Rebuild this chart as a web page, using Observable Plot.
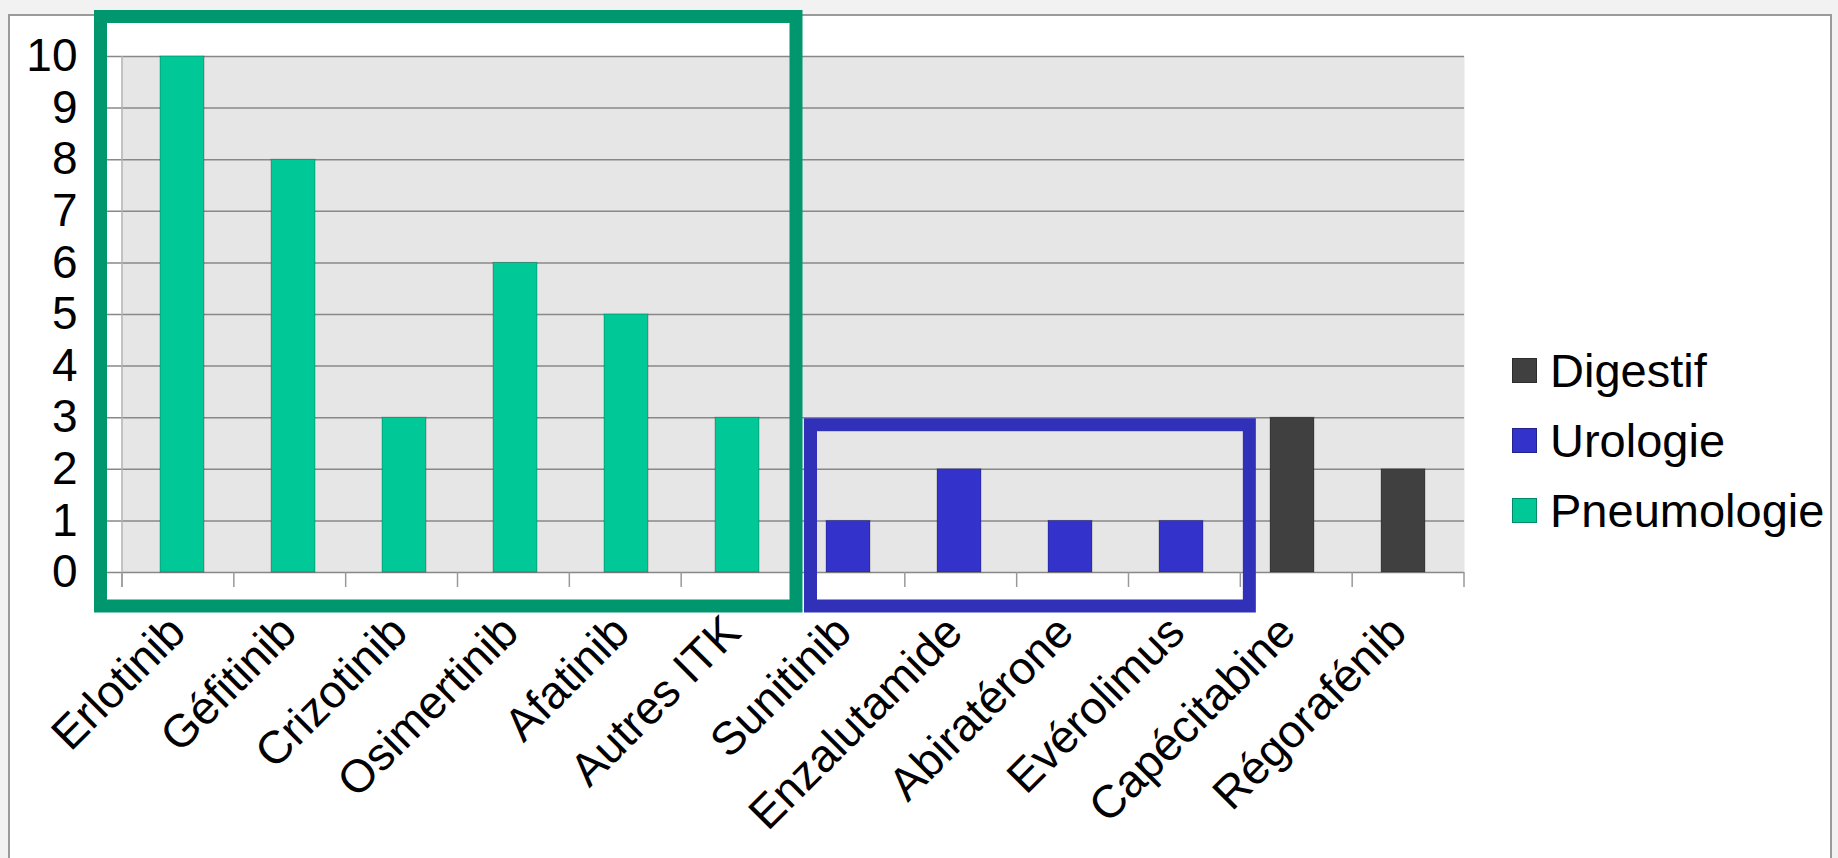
<!DOCTYPE html>
<html><head><meta charset="utf-8">
<script src="https://cdn.jsdelivr.net/npm/d3@7"></script>
<script src="https://cdn.jsdelivr.net/npm/@observablehq/plot@0.6"></script>
<style>
html,body{margin:0;padding:0;background:#f2f2f2;width:1838px;height:858px;overflow:hidden;font-family:"Liberation Sans",Arial,sans-serif;}
#panel{position:absolute;left:8px;top:14px;width:1824px;height:900px;background:#fff;border:2px solid #9a9a9a;box-sizing:border-box;}
#chart{position:absolute;left:0;top:0;}
.legend-item{position:absolute;left:1512px;height:60px;display:flex;align-items:center;font-size:47px;color:#000;white-space:nowrap;}
.sw{width:23px;height:23px;border:1px solid rgba(0,0,0,0.3);margin-right:13px;flex:none;}
</style></head><body>
<div id="panel"></div><div id="chart"></div><div id="legend"></div>
<script>
const categories = ["Erlotinib","Géfitinib","Crizotinib","Osimertinib","Afatinib","Autres ITK","Sunitinib","Enzalutamide","Abiratérone","Evérolimus","Capécitabine","Régorafénib"];
const values = [10, 8, 3, 6, 5, 3, 1, 2, 1, 1, 3, 2];
const groups = ["Pneumologie","Pneumologie","Pneumologie","Pneumologie","Pneumologie","Pneumologie","Urologie","Urologie","Urologie","Urologie","Digestif","Digestif"];
const legendOrder = ["Digestif","Urologie","Pneumologie"];
const legendColors = ["#404040","#3333cc","#00c896"];
const yTicks = [0,1,2,3,4,5,6,7,8,9,10];
// highlighted groups (boxes)
const boxGroups = ["Pneumologie","Urologie"];
const boxColors = ["#00966e","#3030b8"];

const data = categories.map((c, i) => ({name: c, value: values[i], group: groups[i]}));

const chart = Plot.plot({
  width: 1838,
  height: 858,
  marginLeft: 122,
  marginRight: 374,
  marginTop: 56,
  marginBottom: 286,
  style: {background: "transparent", fontFamily: "'Liberation Sans', Arial, sans-serif"},
  x: {domain: categories, paddingInner: 0.6, paddingOuter: 0.3, axis: null},
  y: {domain: [0, 10], label: null, axis: null},
  color: {domain: legendOrder, range: legendColors},
  marks: [
    Plot.frame({fill: "#e6e6e6", stroke: "none"}),
    Plot.gridY(yTicks, {stroke: "#888", strokeOpacity: 1, strokeWidth: 1.5, insetLeft: -20}),
    Plot.axisY(yTicks, {tickSize: 0, tickPadding: 45, fontSize: 46, fill: "#000", tickFormat: d => String(d)}),
    Plot.barY(data, {x: "name", y: "value", fill: "group", stroke: "#000", strokeOpacity: 0.25, strokeWidth: 1}),
    Plot.text(categories, {x: d => d, frameAnchor: "bottom", dy: 52, dx: -5, rotate: -45, textAnchor: "end", lineAnchor: "middle", fontSize: 46, fill: "#000"})
  ]
});

document.getElementById("chart").appendChild(chart);

const xs = chart.scale("x"), ys = chart.scale("y");
const [r0, r1] = xs.range;
const step = (r1 - r0) / categories.length;
const edge = i => r0 + i * step;
const y0 = ys.apply(0), yTop = ys.apply(10);
const svg = d3.select(chart);
const g = svg.append("g");
// y axis line
g.append("line").attr("x1", r0).attr("x2", r0).attr("y1", yTop).attr("y2", y0 + 15).attr("stroke", "#b0b0b0").attr("stroke-width", 1.5);
// category separator ticks
for (let i = 0; i <= categories.length; i++) {
  g.append("line").attr("x1", edge(i)).attr("x2", edge(i)).attr("y1", y0).attr("y2", y0 + 15).attr("stroke", "#999").attr("stroke-width", 1.5);
}
// highlight boxes
boxGroups.forEach((grp, k) => {
  const idx = groups.map((d, i) => d === grp ? i : -1).filter(i => i >= 0);
  const first = idx[0], last = idx[idx.length - 1];
  const maxV = d3.max(idx, i => values[i]);
  let x1, x2, yT;
  if (k === 0) { x1 = edge(first) - 21.5; x2 = edge(last + 1) + 3; yT = ys.apply(maxV) - 39.5; }
  else { x1 = edge(first) + 17.5; x2 = edge(last + 1) + 9; yT = ys.apply(d3.max(values.filter((v, i) => groups[i] === "Pneumologie").slice(-1))) + 7.5; }
  const yB = y0 + 34;
  g.append("rect").attr("x", x1).attr("y", yT).attr("width", x2 - x1).attr("height", yB - yT)
    .attr("fill", "none").attr("stroke", boxColors[k]).attr("stroke-width", 13);
});

// legend
const color = chart.scale("color");
const legend = document.getElementById("legend");
const centers = [370, 440, 510];
legendOrder.forEach((name, i) => {
  const item = document.createElement("div");
  item.className = "legend-item";
  item.style.top = (centers[i] - 30) + "px";
  const sw = document.createElement("div");
  sw.className = "sw";
  sw.style.background = color.apply(name);
  const t = document.createElement("span");
  t.textContent = name;
  item.appendChild(sw); item.appendChild(t);
  legend.appendChild(item);
});
</script>
</body></html>
